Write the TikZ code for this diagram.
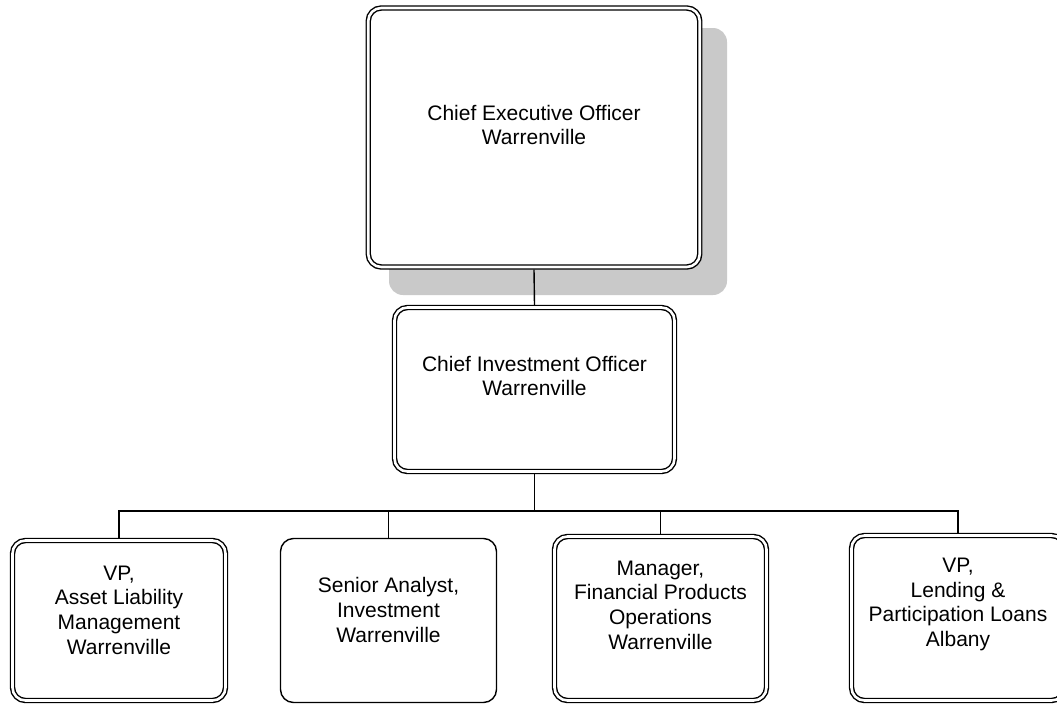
\documentclass[tikz,border=0pt]{standalone}
\usepackage{fontspec}
\setmainfont{Liberation Sans}
\begin{document}
\begin{tikzpicture}[x=1pt,y=-1pt,
  box/.style={draw=black, rectangle, rounded corners=13pt, line width=1.4pt, fill=white, inner sep=0pt, outer sep=0.7pt},
  dbox/.style={box, double=white, double distance=2.6pt, outer sep=2.7pt},
  lbl/.style={align=center, font=\fontsize{21}{24.7}\selectfont, inner sep=0pt},
  conn/.style={draw=black, line width=1.4pt}]
\useasboundingbox (0,0) rectangle (1057,704);
% shadow of CEO box
\fill[black!21, rounded corners=14pt] (389,28) rectangle (727,295);
% boxes
\node[dbox, minimum width=331.5pt, minimum height=259pt] (ceo) at (534,137.5) {};
\node[dbox, minimum width=280pt, minimum height=164pt] (cio) at (534.5,389.5) {};
\node[dbox, minimum width=213pt, minimum height=160pt] (b1) at (119,620.5) {};
\node[box, minimum width=216pt, minimum height=164pt] (b2) at (388.5,620.5) {};
\node[dbox, minimum width=212pt, minimum height=164pt] (b3) at (660.5,618.5) {};
\node[dbox, minimum width=213pt, minimum height=165pt] (b4) at (958,618) {};
% labels
\node[lbl] (tceo) at (534,125) {Chief Executive Officer\\Warrenville};
\node[lbl] (tcio) at (534.5,376) {Chief Investment Officer\\Warrenville};
\node[lbl] (t1) at (119,610) {VP,\\Asset Liability\\Management\\Warrenville};
\node[lbl] (t2) at (388.5,610) {Senior Analyst,\\Investment\\Warrenville};
\node[lbl] (t3) at (660.5,605) {Manager,\\Financial Products\\Operations\\Warrenville};
\node[lbl] (t4) at (958,604.5) {VP,\\Lending \&\\Participation Loans\\Albany};
% connectors
\coordinate (bus) at (534.5,511);
\draw[conn] (ceo.south) -- (cio.north);
\draw[conn] (cio.south) -- (bus);
\draw[conn] (bus) -| (b1.north);
\draw[conn] (bus) -| (b2.north);
\draw[conn] (bus) -| (b3.north);
\draw[conn] (bus) -| (b4.north);
\end{tikzpicture}
\end{document}
